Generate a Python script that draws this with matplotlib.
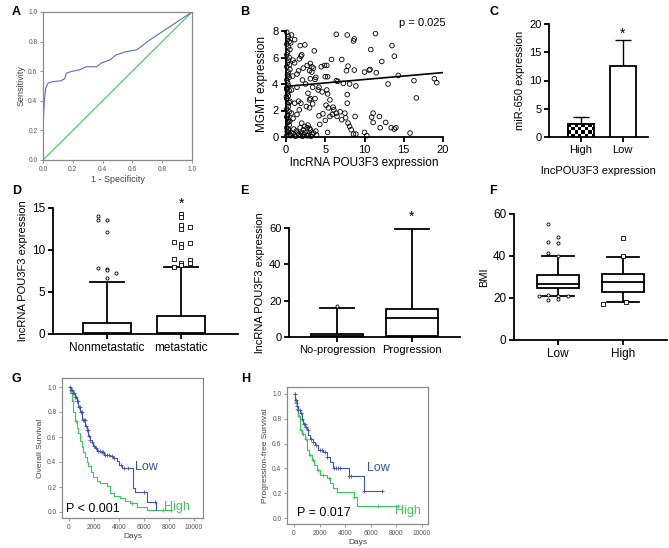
import numpy as np
import matplotlib
matplotlib.use("Agg")
import matplotlib.pyplot as plt

plt.rcParams["font.family"] = ["Liberation Sans", "DejaVu Sans"]

# ── A: ROC curve ──────────────────────────────────────────────────────────────
roc_fpr = [0, 0, 0.004, 0.007, 0.01, 0.018, 0.034, 0.067, 0.12, 0.146, 0.157, 0.19,
           0.247, 0.29, 0.36, 0.39, 0.45, 0.49, 0.55, 0.63, 0.66, 0.70, 1.0]
roc_tpr = [0, 0.2, 0.3, 0.36, 0.41, 0.485, 0.52, 0.53, 0.535, 0.55, 0.587, 0.598,
           0.61, 0.63, 0.63, 0.655, 0.677, 0.71, 0.73, 0.745, 0.767, 0.80, 1.0]

# ── B: lncRNA POU3F3 vs MGMT scatter ──────────────────────────────────────────
mgmt_x = [6.4, 7.8, 8.6, 8.7, 11.4, 13.5, 10.8, 13.8, 12.2, 5.8, 7.1, 7.9, 7.7, 8.7,
          10.0, 10.6, 10.7, 11.5, 14.3, 4.9, 5.2, 4.5, 5.0, 5.3, 6.4, 6.6, 7.3, 8.1,
          8.9, 7.8, 7.8, 13.0, 16.3, 18.9, 19.2, 16.6, 4.2, 4.1, 4.6, 5.2, 5.3, 5.6,
          5.1, 5.4, 6.0, 6.1, 6.4, 6.5, 5.9, 5.6, 4.7, 4.2, 5.0, 4.3, 5.3, 7.5, 7.6,
          7.9, 8.1, 8.3, 8.6, 8.9, 8.8, 10.0, 10.3, 10.9, 11.1, 11.1, 11.9, 12.0, 12.7,
          13.4, 13.8, 14.0, 15.8, 6.9, 7.1,
          0.7, 1.1, 1.8, 2.4, 3.6, 1.9, 1.7, 2.0, 0.9, 1.1, 3.1, 2.7, 3.3, 3.5, 2.2,
          1.6, 3.0, 3.3, 1.4, 0.85, 2.1, 3.1, 3.8, 3.7, 2.5, 3.4, 1.4, 0.7, 2.8, 3.1,
          3.0, 3.7, 3.4, 2.6, 3.0, 1.6, 1.9, 1.1, 1.7, 0.7, 1.4, 0.9, 0.5, 2.0, 2.4,
          2.7, 3.1, 1.8, 1.3, 0.7, 2.0, 2.3, 3.3, 3.8, 2.8, 1.6,
          0.6, 0.9, 1.2, 1.5, 1.8, 2.1, 2.4, 2.6, 2.9, 3.2, 3.5, 3.9, 1.0, 2.2, 2.8, 3.0,
          0.1, 0.3, 0.2, 0.4, 0.1, 0.3, 0.5, 0.2, 0.1, 0.4, 0.3, 0.2, 0.1, 0.5, 0.3,
          0.2, 0.4, 0.1, 0.2, 0.3, 0.1, 0.4, 0.2, 0.3, 0.1, 0.5, 0.2, 0.3, 0.1, 0.4,
          0.2, 0.1, 0.3, 0.2, 0.4, 0.1, 0.3, 0.2, 0.5, 0.1, 0.3, 0.2, 0.4, 0.1, 0.2,
          0.6, 0.45, 0.05, 0.35, 0.15]
mgmt_y = [7.75, 7.7, 7.25, 7.4, 7.8, 6.9, 6.6, 6.1, 5.7, 5.85, 5.85, 5.35, 5.0, 5.05,
          4.9, 5.05, 5.1, 4.85, 4.65, 5.4, 5.4, 5.3, 4.55, 4.55, 4.25, 4.2, 4.05, 4.0,
          3.85, 3.2, 2.55, 4.0, 4.25, 4.4, 4.1, 2.95, 3.75, 3.55, 3.4, 3.55, 3.25, 2.8,
          2.4, 2.2, 2.25, 2.05, 1.8, 1.55, 1.7, 1.55, 1.75, 1.6, 1.25, 0.95, 0.35, 1.8,
          1.45, 1.05, 0.8, 0.55, 0.22, 0.22, 1.55, 0.35, 0.1, 1.5, 1.8, 1.1, 1.55, 0.7,
          1.1, 0.7, 0.6, 0.7, 0.3, 1.9, 1.3,
          7.7, 7.35, 6.9, 6.95, 6.5, 6.1, 5.9, 6.2, 5.8, 5.6, 5.55, 5.4, 5.3, 5.2, 5.2,
          5.0, 5.0, 4.9, 4.75, 4.6, 4.3, 4.4, 4.5, 4.35, 4.0, 3.75, 3.75, 3.55, 3.3, 2.9,
          2.8, 2.9, 2.5, 2.3, 2.2, 2.7, 2.55, 2.55, 2.05, 1.8, 1.7, 1.4, 1.2, 1.05, 0.8,
          0.7, 0.55, 0.7, 0.45, 0.3, 0.3, 0.2, 0.2, 0.45, 0.1, 0.2,
          0.1, 0.25, 0.05, 0.3, 0.15, 0.05, 0.35, 0.1, 0.2, 0.05, 0.3, 0.15, 0.6, 0.55,
          0.9, 0.65,
          7.9, 7.6, 7.4, 7.2, 7.0, 6.8, 6.6, 6.4, 6.2, 6.0, 5.8, 5.6, 5.3, 5.1, 4.9, 4.7,
          4.5, 4.3, 4.1, 3.9, 3.7, 3.5, 3.3, 3.1, 2.9, 2.7, 2.5, 2.3, 2.1, 1.9, 1.7, 1.5,
          1.3, 1.1, 0.9, 0.7, 0.5, 0.35, 0.2, 0.1, 0.6, 1.6, 2.6, 3.6, 4.6,
          7.1, 5.45, 3.05, 1.15, 0.4]
fit_intercept = 3.82
fit_slope = 0.052
fit_range = [0, 20]
p_corr = "p = 0.025"

# ── C: miR-650 expression ─────────────────────────────────────────────────────
mir_groups = ["High", "Low"]
mir_means = [2.25, 12.6]
mir_err = [1.3, 4.6]

# ── D: metastatic box plot ────────────────────────────────────────────────────
met_groups = ["Nonmetastatic", "metastatic"]
met_stats = [dict(whislo=0, q1=0.05, med=0.15, q3=1.27, whishi=6.2),
             dict(whislo=0, q1=0.05, med=0.15, q3=2.2, whishi=7.95)]
met_out = [[14.1, 13.6, 13.6, 12.2, 7.9, 7.7, 7.6, 7.3, 6.7],
           [14.3, 13.9, 12.95, 12.75, 12.5, 11.0, 10.7, 10.8, 10.3, 8.9, 8.8, 8.5, 8.5, 8.0, 8.2]]
met_jit = [[-0.12, -0.12, 0, 0, -0.12, 0, 0, 0.12, 0],
           [0, 0, 0, 0.12, 0, -0.1, 0, 0.12, 0, -0.1, 0.12, 0, 0.12, -0.1, 0]]

# ── E: progression box plot ───────────────────────────────────────────────────
prog_groups = ["No-progression", "Progression"]
prog_stats = [dict(whislo=0, q1=0.1, med=0.7, q3=1.66, whishi=16.2),
              dict(whislo=0.2, q1=0.7, med=10.7, q3=15.3, whishi=59.7)]
prog_out = [[16.9], []]

# ── F: BMI box plot ───────────────────────────────────────────────────────────
bmi_groups = ["Low", "High"]
bmi_stats = [dict(whislo=21.0, q1=24.6, med=26.5, q3=30.8, whishi=40.0),
             dict(whislo=18.3, q1=23.0, med=27.5, q3=31.6, whishi=39.5)]
bmi_out = [[55.4, 49.2, 46.5, 46.0, 41.3, 40.0, 21.0, 21.3, 21.0, 21.0, 19.0, 19.4],
           [48.7, 40.0, 17.3, 18.3]]
bmi_jit = [[-0.15, 0.0, -0.15, 0.0, -0.15, 0.0, -0.3, -0.15, 0.0, 0.15, -0.15, 0.0],
           [0.0, 0.0, -0.3, 0.05]]

# ── G/H: Kaplan-Meier curves ──────────────────────────────────────────────────
os_low_t = [0, 150, 300, 450, 610, 750, 880, 1050, 1280, 1420, 1540, 1700, 1810, 1950,
            2070, 2250, 2470, 2800, 3270, 3550, 3800, 4000, 4200, 5130, 5270, 6200, 6950, 6960]
os_low_s = [1.0, 0.98, 0.95, 0.92, 0.89, 0.84, 0.80, 0.74, 0.69, 0.66, 0.61, 0.58, 0.56,
            0.53, 0.51, 0.49, 0.48, 0.46, 0.45, 0.43, 0.41, 0.38, 0.355, 0.19, 0.16, 0.08,
            0.02, 0.02]
os_high_t = [0, 100, 210, 330, 480, 600, 745, 880, 1010, 1150, 1280, 1400, 1540, 1750,
             1940, 2200, 2470, 3000, 3270, 3600, 4070, 4500, 4870, 5400, 6200, 8190]
os_high_s = [1.0, 0.95, 0.89, 0.80, 0.73, 0.67, 0.63, 0.57, 0.52, 0.48, 0.44, 0.40, 0.37,
             0.32, 0.28, 0.25, 0.23, 0.21, 0.15, 0.13, 0.11, 0.09, 0.07, 0.04, 0.02, 0.02]
os_low_cens = [100, 180, 260, 340, 420, 500, 560, 640, 700, 780, 860, 940, 1020, 1100,
               1180, 1260, 1340, 1420, 1500, 1600, 1700, 1850, 2000, 2150, 2300, 2450,
               2600, 2750, 2900, 3050, 3200, 3400, 3600, 4150, 4400, 4700, 6000, 6900]
os_high_cens = [300, 520, 5000, 7500, 8190]

pfs_low_t = [0, 100, 210, 340, 470, 600, 730, 860, 990, 1120, 1250, 1450, 1640, 1910,
             2300, 2560, 2820, 3080, 4260, 5480, 6870]
pfs_low_s = [1.0, 0.95, 0.90, 0.87, 0.85, 0.80, 0.76, 0.73, 0.71, 0.67, 0.64, 0.61, 0.59,
             0.55, 0.535, 0.49, 0.45, 0.40, 0.34, 0.22, 0.22]
pfs_high_t = [0, 80, 200, 340, 470, 650, 860, 1040, 1200, 1380, 1580, 1780, 2040, 2560,
              2800, 3080, 3340, 4650, 4910, 8100]
pfs_high_s = [1.0, 0.93, 0.88, 0.82, 0.71, 0.68, 0.64, 0.55, 0.51, 0.47, 0.43, 0.39, 0.35,
              0.32, 0.28, 0.24, 0.21, 0.17, 0.10, 0.10]
pfs_low_cens = [50, 150, 250, 350, 450, 550, 650, 750, 850, 950, 1100, 1300, 1500, 1700,
                2000, 2200, 2400, 2600, 3100, 3300, 3450, 3600, 4300, 4450, 5480, 6870]
pfs_high_cens = [60, 150, 250, 380, 550, 700, 950, 1250, 1500, 1900, 2300, 2700, 4650,
                 6600, 8100]

BLUE = "#4253b5"
GREEN = "#3cc85c"
GREY = "#8a8a8a"
LW = 1.3


def fig_axes(px, W=669, H=548):
    x0, y0, x1, y1 = px
    return fig.add_axes([x0 / W, 1 - y1 / H, (x1 - x0) / W, (y1 - y0) / H])


def prism_style(ax, fs=8.5):
    for s in ["top", "right"]:
        ax.spines[s].set_visible(False)
    for s in ["left", "bottom"]:
        ax.spines[s].set_linewidth(LW)
    ax.tick_params(direction="out", length=3.5, width=LW, labelsize=fs, pad=2)


def spss_style(ax):
    for s in ax.spines.values():
        s.set_color(GREY)
        s.set_linewidth(0.9)
    ax.tick_params(direction="out", length=2.5, width=0.6, colors=GREY,
                   labelsize=4.8, labelcolor="#555555", pad=1.5)


def draw_box(ax, stats, box_w, cap_w):
    for i, st in enumerate(stats):
        ax.add_patch(plt.Rectangle((i - box_w / 2, st["q1"]), box_w, st["q3"] - st["q1"],
                                   fc="white", ec="black", lw=LW, zorder=3))
        ax.plot([i - box_w / 2, i + box_w / 2], [st["med"]] * 2, color="black", lw=LW, zorder=4)
        ax.plot([i, i], [st["q3"], st["whishi"]], color="black", lw=LW, zorder=2)
        ax.plot([i, i], [st["whislo"], st["q1"]], color="black", lw=LW, zorder=2)
        ax.plot([i - cap_w / 2, i + cap_w / 2], [st["whishi"]] * 2, color="black", lw=LW)
        ax.plot([i - cap_w / 2, i + cap_w / 2], [st["whislo"]] * 2, color="black", lw=LW)


def draw_outliers(ax, pos, vals, jit, marker):
    if not vals:
        return
    jit = jit if jit else [0] * len(vals)
    ax.scatter(np.array(jit) + pos, vals, marker=marker, s=5, facecolor="white",
               edgecolor="black", linewidth=0.6, zorder=5, clip_on=False)


def km_curve(ax, t, s, cens, color):
    ax.step(t, s, where="post", color=color, lw=0.8)
    idx = np.searchsorted(t, cens, side="right") - 1
    ax.plot(cens, np.array(s)[idx], "+", color=color, ms=3.5, mew=0.6)


fig = plt.figure(figsize=(6.69, 5.48), dpi=100)

# Panel A
ax = fig_axes((43, 12, 192, 160))
ax.plot([0, 1], [0, 1], color=GREEN, lw=0.8)
ax.plot(roc_fpr, roc_tpr, color="#5a6bc8", lw=0.8)
ax.set_xlim(0, 1)
ax.set_ylim(0, 1)
ax.set_xticks(np.arange(0, 1.01, 0.2))
ax.set_yticks(np.arange(0, 1.01, 0.2))
spss_style(ax)
ax.set_xlabel("1 - Specificity", fontsize=6.5, color="#444444", labelpad=2)
ax.set_ylabel("Sensitivity", fontsize=6.5, color="#444444", labelpad=2)

# Panel B
ax = fig_axes((286, 31, 443, 137))
ax.scatter(mgmt_x, mgmt_y, s=11, facecolor="none", edgecolor="black", linewidth=0.6,
           clip_on=False, zorder=3)
fx = np.array(fit_range)
ax.plot(fx, fit_intercept + fit_slope * fx, color="black", lw=1.2, zorder=4)
ax.set_xlim(0, 20)
ax.set_ylim(0, 8)
ax.set_xticks([0, 5, 10, 15, 20])
ax.set_yticks([0, 2, 4, 6, 8])
prism_style(ax, 8)
ax.set_xlabel("lncRNA POU3F3 expression", fontsize=8.5, labelpad=2)
ax.set_ylabel("MGMT expression", fontsize=8.5, labelpad=3)
ax.text(0.72, 1.05, p_corr, transform=ax.transAxes, fontsize=8)

# Panel C
ax = fig_axes((549, 24, 648, 137))
bars = ax.bar([0, 1], mir_means, width=0.62, color="white", edgecolor="black",
              linewidth=LW, zorder=3)
ax.errorbar([0, 1], mir_means, yerr=[[0, 0], mir_err], fmt="none", ecolor="black",
            elinewidth=1.0, capsize=6, capthick=1.0, zorder=2)
hb = bars[0]
checker = np.indices((4, 8)).sum(axis=0) % 2
im = ax.imshow(checker, cmap="gray", interpolation="nearest", aspect="auto", zorder=3.5,
               extent=(hb.get_x(), hb.get_x() + hb.get_width(), 0, hb.get_height()))
im.set_clip_path(hb)
ax.add_patch(plt.Rectangle((hb.get_x(), 0), hb.get_width(), hb.get_height(), fc="none",
                           ec="black", lw=LW, zorder=4))
ax.set_xlim(-0.75, 1.6)
ax.set_ylim(0, 20)
ax.set_yticks([0, 5, 10, 15, 20])
ax.set_xticks([0, 1])
ax.set_xticklabels(mir_groups)
prism_style(ax, 8)
ax.set_xlabel("lncPOU3F3 expression", fontsize=8, labelpad=8)
ax.set_ylabel("miR-650 expression", fontsize=8, labelpad=3)
ax.text(1, mir_means[1] + mir_err[1] + 1.0, "*", ha="center", va="center", fontsize=10)

# Panel D
ax = fig_axes((53, 208, 238, 334))
draw_box(ax, met_stats, 0.65, 0.45)
draw_outliers(ax, 0, met_out[0], met_jit[0], "o")
draw_outliers(ax, 1, met_out[1], met_jit[1], "s")
ax.set_xlim(-0.73, 1.77)
ax.set_ylim(0, 15)
ax.set_yticks([0, 5, 10, 15])
ax.set_xticks([0, 1])
ax.set_xticklabels(met_groups)
prism_style(ax, 8.5)
ax.set_ylabel("lncRNA POU3F3 expression", fontsize=8, labelpad=3)
ax.text(1, 15.5, "*", ha="center", va="center", fontsize=10, clip_on=False)

# Panel E
ax = fig_axes((289, 228, 460, 337))
draw_box(ax, prog_stats, 0.7, 0.45)
draw_outliers(ax, 0, prog_out[0], None, "o")
ax.set_xlim(-0.64, 1.64)
ax.set_ylim(0, 60)
ax.set_yticks([0, 20, 40, 60])
ax.set_xticks([0, 1])
ax.set_xticklabels(prog_groups)
prism_style(ax, 8)
ax.set_ylabel("lncRNA POU3F3 expression", fontsize=8, labelpad=3)
ax.text(1, 66, "*", ha="center", va="center", fontsize=10, clip_on=False)

# Panel F
ax = fig_axes((514, 214, 667, 340))
draw_box(ax, bmi_stats, 0.65, 0.5)
draw_outliers(ax, 0, bmi_out[0], bmi_jit[0], "o")
draw_outliers(ax, 1, bmi_out[1], bmi_jit[1], "s")
ax.set_xlim(-0.68, 1.68)
ax.set_ylim(0, 60)
ax.set_yticks([0, 20, 40, 60])
ax.set_xticks([0, 1])
ax.set_xticklabels(bmi_groups)
prism_style(ax, 8.5)
ax.set_ylabel("BMI", fontsize=8, labelpad=3)

# Panel G
ax = fig_axes((62, 378, 203, 518))
km_curve(ax, os_high_t, os_high_s, os_high_cens, GREEN)
km_curve(ax, os_low_t, os_low_s, os_low_cens, BLUE)
ax.set_xlim(-560, 10720)
ax.set_ylim(-0.048, 1.072)
ax.set_xticks(range(0, 10001, 2000))
ax.set_yticks(np.arange(0, 1.01, 0.2))
ax.set_yticklabels([f"{v:.1f}" for v in np.arange(0, 1.01, 0.2)])
spss_style(ax)
ax.set_xlabel("Days", fontsize=6, color="#444444", labelpad=2)
ax.set_ylabel("Overall Survival", fontsize=6, color="#444444", labelpad=2)
ax.text(-250, 0.02, "P < 0.001", fontsize=9, va="center")
ax.text(5300, 0.36, "Low", color="#3a55a0", fontsize=9, va="center")
ax.text(7600, 0.04, "High", color=GREEN, fontsize=9, va="center")

# Panel H
ax = fig_axes((287, 387, 428, 524))
km_curve(ax, pfs_high_t, pfs_high_s, pfs_high_cens, GREEN)
km_curve(ax, pfs_low_t, pfs_low_s, pfs_low_cens, BLUE)
ax.set_xlim(-547, 10469)
ax.set_ylim(-0.048, 1.056)
ax.set_xticks(range(0, 10001, 2000))
ax.set_yticks(np.arange(0, 1.01, 0.2))
ax.set_yticklabels([f"{v:.1f}" for v in np.arange(0, 1.01, 0.2)])
spss_style(ax)
ax.set_xlabel("Days", fontsize=6, color="#444444", labelpad=2)
ax.set_ylabel("Progression-free Survival", fontsize=6, color="#444444", labelpad=2)
ax.text(200, 0.04, "P = 0.017", fontsize=9, va="center")
ax.text(5700, 0.40, "Low", color="#3a55a0", fontsize=9, va="center")
ax.text(7900, 0.06, "High", color=GREEN, fontsize=9, va="center")

# Panel letters
for lab, (x, y) in {"A": (12, 12), "B": (240, 12), "C": (489, 12),
                    "D": (12, 191), "E": (240, 191), "F": (489, 191),
                    "G": (12, 379), "H": (241, 379)}.items():
    fig.text(x / 669, 1 - y / 548, lab, fontsize=9, fontweight="bold", va="center")

fig.savefig("out.png", dpi=100)
